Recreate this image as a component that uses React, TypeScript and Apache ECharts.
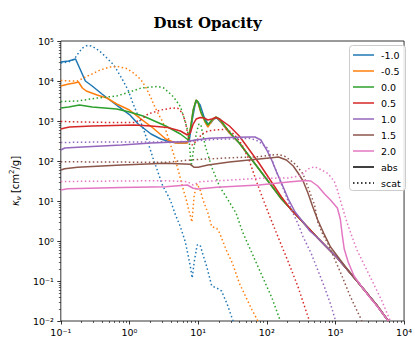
import React, { useEffect, useRef } from 'react';
import * as echarts from 'echarts';

const speciesNames = ['-1.0', '-0.5', '0.0', '0.5', '1.0', '1.5', '2.0'];
const speciesColors = ['#1f77b4', '#ff7f0e', '#2ca02c', '#d62728', '#9467bd', '#8c564b', '#e377c2'];
const styleNames = ['abs', 'scat'];

const xTickValues = [0.1, 1, 10, 100, 1000, 10000];
const xTickLabels = ['10⁻¹', '10⁰', '10¹', '10²', '10³', '10⁴'];
const yTickValues = [0.01, 0.1, 1, 10, 100, 1000, 10000, 100000];
const yTickLabels = ['10⁻²', '10⁻¹', '10⁰', '10¹', '10²', '10³', '10⁴', '10⁵'];

// wavelength [um], kappa [cm^2/g]
const absM10 = [[0.1, 29900], [0.13, 31600], [0.164, 35500], [0.228, 10000], [0.286, 7500], [0.398, 4730], [0.553, 3070], [0.768, 2000], [1.0, 1450], [1.34, 841], [2.06, 473], [2.86, 355], [3.98, 299], [5.18, 282], [6.74, 282], [7.43, 316], [8.21, 1060], [9.06, 2660], [9.68, 3160], [10.7, 2510], [12.2, 1260], [13.9, 841], [15.3, 891], [16.9, 1120], [18.7, 1190], [22.0, 891], [28.6, 501], [39.8, 282], [76.9, 63.1], [164, 11.2], [286, 3.98], [553, 1.19], [1069, 0.376], [2062, 0.1], [3981, 0.0251], [5908, 0.01]];
const absM05 = [[0.1, 7500], [0.13, 8410], [0.158, 8910], [0.181, 9440], [0.206, 6680], [0.235, 5620], [0.338, 4470], [0.469, 3760], [0.652, 2660], [1.0, 1880], [1.48, 1120], [2.2, 668], [3.38, 355], [4.69, 282], [6.96, 282], [7.69, 631], [8.48, 1880], [9.36, 3350], [10.0, 2820], [11.0, 1580], [12.6, 944], [13.9, 708], [15.8, 1000], [18.1, 1260], [20.6, 1060], [28.6, 501], [39.8, 282], [76.9, 63.1], [164, 11.2], [286, 3.98], [553, 1.19], [1069, 0.376], [2062, 0.1], [3981, 0.0251], [5908, 0.01]];
const abs00 = [[0.1, 2110], [0.13, 2240], [0.187, 2510], [0.286, 2240], [0.652, 2000], [1.0, 1680], [1.58, 1330], [3.38, 750], [5.53, 473], [7.19, 335], [7.69, 596], [8.48, 1880], [9.36, 3350], [10.0, 2990], [11.0, 1680], [12.6, 1000], [13.9, 794], [15.8, 1060], [18.1, 1260], [20.6, 1120], [28.6, 531], [39.8, 282], [76.9, 63.1], [164, 11.2], [286, 3.98], [553, 1.19], [1069, 0.376], [2062, 0.1], [3981, 0.0251], [5908, 0.01]];
const abs05 = [[0.1, 631], [0.114, 668], [0.1345, 708], [0.286, 750], [1.18, 794], [2.06, 750], [3.61, 688], [5.53, 562], [6.96, 447], [7.69, 501], [8.48, 841], [9.36, 1120], [10.7, 1220], [12.2, 1190], [13.9, 1060], [15.8, 1120], [18.1, 1220], [20.6, 1120], [28.6, 750], [39.8, 422], [76.9, 89.1], [164, 12.6], [228, 5.96], [286, 3.98], [553, 1.19], [1069, 0.376], [2062, 0.1], [3981, 0.0251], [5908, 0.01]];
const abs10 = [[0.1, 188], [0.114, 211], [0.206, 224], [0.768, 251], [2.06, 282], [6.96, 307], [9.06, 335], [14.8, 369], [28.6, 387], [55.3, 398], [67.4, 398], [82.1, 335], [100, 188], [118, 106], [139, 53.1], [164, 28.2], [206, 11.2], [259, 5.31], [338, 2.99], [425, 1.78], [553, 1.19], [1069, 0.376], [2062, 0.1], [3981, 0.0251], [5908, 0.01]];
const abs15 = [[0.1, 59.6], [0.114, 64.2], [0.175, 69.6], [0.768, 79.4], [3.38, 87.6], [7.69, 82.7], [8.77, 69.6], [10.0, 69.6], [13.9, 79.4], [28.6, 94.4], [55.3, 106], [118, 121], [148, 126], [193, 106], [243, 75], [286, 50.1], [338, 31.6], [398, 15.8], [469, 7.08], [553, 3.35], [674, 1.58], [849, 0.708], [1179, 0.335], [1484, 0.2], [2062, 0.1], [3981, 0.0251], [5908, 0.01]];
const abs20 = [[0.1, 18.8], [0.126, 20.3], [0.768, 21.8], [3.38, 22.8], [6.96, 25.1], [8.48, 20.8], [10.0, 20.0], [18.7, 22.0], [76.9, 25.1], [206, 29.9], [361, 32.5], [439, 31.6], [553, 23.7], [696, 15.0], [849, 10.6], [1069, 6.68], [1179, 3.55], [1259, 1.41], [1345, 0.631], [1534, 0.299], [1868, 0.133], [2430, 0.0708], [3060, 0.0422], [4252, 0.0211], [5908, 0.01]];

const scatM10 = [[0.1, 28200], [0.13, 29900], [0.158, 35500], [0.181, 50100], [0.206, 66800], [0.243, 77200], [0.277, 75000], [0.316, 66800], [0.373, 54700], [0.469, 37600], [0.591, 25100], [0.696, 15800], [0.821, 9720], [0.968, 5620], [1.104, 2990], [1.34, 1330], [1.58, 668], [1.87, 282], [2.2, 119], [2.595, 53.1], [3.06, 23.7], [3.61, 14.1], [3.98, 10.0], [4.69, 4.47], [5.53, 2.24], [6.52, 0.944], [7.19, 0.422], [7.69, 0.237], [8.21, 0.119], [8.77, 0.299], [9.68, 0.794], [10.7, 0.794], [11.8, 0.447], [13.4, 0.224], [15.8, 0.075], [18.7, 0.0668], [22.0, 0.0562], [26.8, 0.0251], [32.3, 0.01]];
const scatM05 = [[0.1, 10300], [0.13, 10000], [0.175, 10000], [0.228, 12600], [0.286, 15000], [0.373, 18800], [0.518, 22400], [0.674, 23000], [0.906, 20500], [1.18, 15400], [1.48, 10600], [1.75, 6680], [2.06, 3760], [2.275, 2510], [2.68, 1410], [3.06, 944], [3.49, 501], [3.85, 299], [4.39, 150], [4.85, 84.1], [5.35, 44.7], [6.11, 18.8], [6.74, 10.6], [7.43, 5.31], [8.13, 2.99], [8.77, 14.1], [9.68, 26.6], [10.7, 18.8], [11.8, 10.6], [13.9, 5.01], [15.8, 2.28], [18.7, 2.08], [20.6, 1.58], [25.7, 0.596], [31.6, 0.28], [39.8, 0.0891], [49.6, 0.0398], [61.1, 0.0188], [74.3, 0.01]];
const scat00 = [[0.1, 3070], [0.175, 3160], [0.338, 3760], [0.652, 4220], [1.0, 5310], [1.48, 6680], [2.06, 7080], [2.595, 7290], [3.16, 6680], [3.61, 5470], [4.39, 3980], [5.53, 2280], [6.11, 1330], [6.9, 668], [7.43, 299], [7.94, 75], [8.57, 188], [9.57, 562], [10.3, 841], [11.0, 794], [12.6, 251], [15.7, 72], [20.6, 22.8], [25.7, 12.6], [35.7, 5.01], [44.4, 1.68], [61.7, 0.473], [85.7, 0.133], [119, 0.0376], [158, 0.01]];
const scat05 = [[0.1, 972], [0.206, 944], [0.553, 917], [1.18, 917], [1.48, 1090], [1.87, 1500], [2.86, 1880], [3.98, 2080], [5.01, 2110], [5.91, 1580], [6.52, 961], [6.96, 540], [7.43, 335], [8.21, 251], [9.68, 335], [11.4, 473], [13.9, 562], [17.5, 596], [22.8, 613], [26.0, 631], [31.6, 501], [37.3, 376], [43.9, 251], [55.3, 106], [69.6, 33.5], [84.9, 13.3], [107, 4.73], [148, 1.19], [206, 0.299], [286, 0.0708], [418, 0.01]];
const scat10 = [[0.1, 290], [0.398, 299], [2.06, 299], [6.96, 307], [10.7, 325], [18.7, 349], [36.1, 361], [55.3, 369], [69, 335], [82.1, 282], [103, 208], [119, 106], [148, 40.5], [185, 15.6], [230, 5.96], [286, 2.66], [338, 1.28], [443, 0.493], [553, 0.188], [690, 0.072], [849, 0.0266], [1009, 0.01]];
const scat15 = [[0.1, 96], [0.398, 94.4], [3.38, 92.8], [7.69, 106], [10.7, 110], [31.6, 121], [76.9, 128], [118, 141], [148, 145], [181, 133], [228, 100], [268, 79.4], [338, 47.3], [398, 22.4], [497, 7.94], [553, 2.99], [652, 1.5], [769, 0.891], [1179, 0.168], [1638, 0.0422], [2430, 0.01]];
const scat20 = [[0.1, 30.7], [0.768, 31.6], [3.38, 32.2], [6.96, 30.4], [8.48, 25.1], [10.7, 30.4], [31.6, 33.5], [76.9, 36.9], [206, 37.6], [316, 43.4], [398, 63.1], [497, 72], [591, 63.1], [769, 49.3], [957, 31.6], [1069, 18.8], [1259, 7.08], [1484, 2.82], [1750, 1.26], [2062, 0.596], [2683, 0.237], [3490, 0.0944], [4692, 0.0335], [6310, 0.01]];

const absData = [absM10, absM05, abs00, abs05, abs10, abs15, abs20];
const scatData = [scatM10, scatM05, scat00, scat05, scat10, scat15, scat20];

const DOT: number[] = [1.5, 2.5];

function minorTicks(fromExp: number, toExp: number): number[] {
  const out: number[] = [];
  for (let e = fromExp; e < toExp; e++) {
    for (let m = 2; m <= 9; m++) out.push(m * Math.pow(10, e));
  }
  return out;
}

function labelFor(values: number[], labels: string[]) {
  return (v: number) => {
    const i = values.findIndex((t) => Math.abs(Math.log10(t) - Math.log10(v)) < 1e-6);
    return i >= 0 ? labels[i] : '';
  };
}

const tickText = { fontFamily: 'DejaVu Sans', fontSize: 9.5, color: '#000' };

function buildOption(): any {
  const series: any[] = [];
  speciesNames.forEach((name, i) => {
    series.push({
      name, type: 'line', data: absData[i], symbol: 'none', silent: true, clip: true,
      lineStyle: { color: speciesColors[i], width: 1.5, type: 'solid' },
    });
    series.push({
      name, type: 'line', data: scatData[i], symbol: 'none', silent: true, clip: true,
      lineStyle: { color: speciesColors[i], width: 1.5, type: DOT },
    });
  });

  const legendEntries = [
    ...speciesNames.map((n, i) => ({ text: n, color: speciesColors[i], dash: null as any })),
    { text: styleNames[0], color: '#000', dash: null as any },
    { text: styleNames[1], color: '#000', dash: DOT },
  ];
  const legendChildren: any[] = [
    { type: 'rect', shape: { x: 0, y: 0, width: 56, height: 145, r: 3 }, style: { fill: 'rgba(255,255,255,0.85)', stroke: '#cccccc', lineWidth: 1 } },
  ];
  legendEntries.forEach((e, k) => {
    const cy = 9.5 + 16 * k;
    legendChildren.push({
      type: 'line', shape: { x1: 3.5, y1: cy, x2: 24.5, y2: cy },
      style: { stroke: e.color, lineWidth: 1.5, lineDash: e.dash || undefined },
    });
    legendChildren.push({
      type: 'text', x: 31.5, y: cy,
      style: { text: e.text, fill: '#000', font: '9.5px "DejaVu Sans"', verticalAlign: 'middle', textVerticalAlign: 'middle' },
    });
  });

  return {
    animation: false,
    backgroundColor: '#fff',
    title: {
      text: 'Dust Opacity', left: 'center', top: 10,
      textStyle: { fontFamily: 'DejaVu Serif', fontWeight: 'bold', fontSize: 15, color: '#000' },
    },
    grid: { left: 58, top: 41, width: 351, height: 280, show: true, borderColor: '#000', borderWidth: 0.8, backgroundColor: 'transparent' },
    xAxis: [
      {
        type: 'log', logBase: 10, min: 0.1, max: 10000, position: 'bottom',
        axisLine: { show: false, onZero: false }, splitLine: { show: false },
        axisTick: { show: true, inside: false, length: 3.5, lineStyle: { color: '#000', width: 0.8 }, customValues: xTickValues },
        axisLabel: { ...tickText, margin: 6, customValues: xTickValues, formatter: labelFor(xTickValues, xTickLabels) },
      },
      {
        type: 'log', logBase: 10, min: 0.1, max: 10000, position: 'bottom',
        axisLine: { show: false, onZero: false }, splitLine: { show: false }, axisLabel: { show: false },
        axisTick: { show: true, inside: false, length: 2, lineStyle: { color: '#000', width: 0.6 }, customValues: minorTicks(-1, 4) },
      },
    ],
    yAxis: [
      {
        type: 'log', logBase: 10, min: 0.01, max: 100000, position: 'left',
        axisLine: { show: false, onZero: false }, splitLine: { show: false },
        axisTick: { show: true, inside: false, length: 3.5, lineStyle: { color: '#000', width: 0.8 }, customValues: yTickValues },
        axisLabel: { ...tickText, margin: 7, customValues: yTickValues, formatter: labelFor(yTickValues, yTickLabels) },
        name: '{i|κ}{sub|ν} [cm{sup|2}/g]',
        nameLocation: 'middle', nameRotate: 90, nameGap: 34,
        nameTextStyle: {
          fontFamily: 'DejaVu Sans', fontSize: 10, color: '#000', lineHeight: 14,
          rich: {
            i: { fontFamily: 'DejaVu Sans', fontSize: 10, fontStyle: 'italic', color: '#000', lineHeight: 14 },
            sub: { fontFamily: 'DejaVu Sans', fontSize: 7, fontStyle: 'italic', color: '#000', lineHeight: 7, verticalAlign: 'bottom' },
            sup: { fontFamily: 'DejaVu Sans', fontSize: 7, color: '#000', lineHeight: 7, verticalAlign: 'top' },
          },
        },
      },
      {
        type: 'log', logBase: 10, min: 0.01, max: 100000, position: 'left',
        axisLine: { show: false, onZero: false }, splitLine: { show: false }, axisLabel: { show: false },
        axisTick: { show: true, inside: false, length: 2, lineStyle: { color: '#000', width: 0.6 }, customValues: minorTicks(-2, 5) },
      },
    ],
    series,
    graphic: [{ type: 'group', left: 349, top: 45, children: legendChildren }],
  };
}

export default function App() {
  const ref = useRef<HTMLDivElement>(null);
  useEffect(() => {
    if (!ref.current) return;
    const chart = echarts.init(ref.current, null, { renderer: 'svg' });
    chart.setOption(buildOption());
    return () => chart.dispose();
  }, []);
  return (
    <div
      ref={ref}
      style={{ position: 'absolute', left: 0, top: 0, width: 415, height: 342, background: '#fff' }}
    />
  );
}
